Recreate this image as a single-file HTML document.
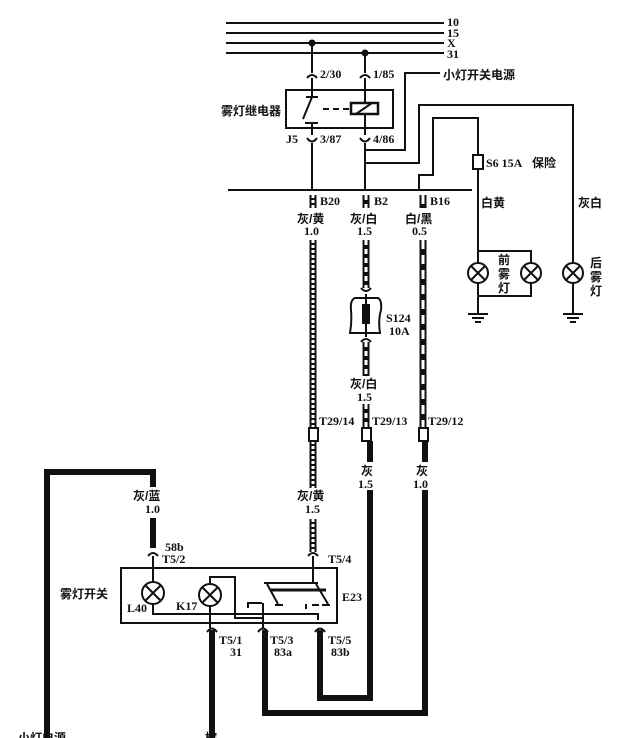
<!DOCTYPE html>
<html><head><meta charset="utf-8"><style>
html,body{margin:0;padding:0;background:#fff;}
svg{display:block;}
text{font-family:"Liberation Serif","Noto Serif CJK SC","Noto Sans CJK SC",serif;font-weight:bold;fill:#111;}
.c{font-family:"Liberation Sans","Noto Sans CJK SC",sans-serif;}
</style></head><body>
<svg width="640" height="738" viewBox="0 0 640 738" xmlns="http://www.w3.org/2000/svg">
<g stroke="#111" fill="none" stroke-width="2">
<line x1="226" y1="23" x2="444" y2="23"/>
<line x1="226" y1="33" x2="444" y2="33"/>
<line x1="226" y1="43" x2="444" y2="43"/>
<line x1="226" y1="53" x2="444" y2="53"/>
<rect x="286" y="90" width="107" height="38" stroke-width="2"/>
<line x1="312" y1="43" x2="312" y2="73"/>
<line x1="365" y1="53" x2="365" y2="73"/>
<path d="M307 78 Q312 72 317 78 M360 78 Q365 72 370 78"/>
<line x1="312" y1="78" x2="312" y2="97"/>
<line x1="312" y1="97" x2="303" y2="119"/>
<line x1="306" y1="97" x2="318" y2="97"/>
<line x1="305" y1="123" x2="318" y2="123"/>
<line x1="312" y1="123" x2="312" y2="135"/>
<path d="M323 109 H350" stroke-dasharray="6,4"/>
<rect x="351" y="103" width="27" height="11" stroke-width="2.5"/>
<line x1="356" y1="114" x2="372" y2="103"/>
<line x1="365" y1="78" x2="365" y2="103"/>
<line x1="365" y1="114" x2="365" y2="135"/>
<path d="M307 138 Q312 145 317 138 M360 138 Q365 145 370 138"/>
<line x1="312" y1="143" x2="312" y2="190"/>
<line x1="365" y1="143" x2="365" y2="190"/>
<path d="M365 150 H405 V73 H440"/>
<path d="M365 163 H419 V105 H573 V263"/>
<path d="M419 190 V175 H433 V118 H478 V155"/>
<rect x="473" y="155" width="10" height="14"/>
<line x1="478" y1="169" x2="478" y2="263"/>
<path d="M478 251 H531 V263 M478 296 H531 V283 M478 283 V313"/>
<circle cx="478" cy="273" r="10"/><circle cx="531" cy="273" r="10"/><circle cx="573" cy="273" r="10"/>
<path d="M471 266 L485 280 M485 266 L471 280 M524 266 L538 280 M538 266 L524 280 M566 266 L580 280 M580 266 L566 280"/>
<line x1="573" y1="283" x2="573" y2="313"/>
<path d="M468 314 H488 M472 318 H484 M475 322 H481 M563 314 H583 M567 318 H579 M570 322 H576"/>
<line x1="228" y1="190" x2="472" y2="190"/>
</g>
<g fill="#111">
<circle cx="312" cy="43" r="3.5"/><circle cx="365" cy="53" r="3.5"/>
</g>
<g fill="none">
<path d="M313 195 V208 M313 240 V428 M313 441 V488 M313 519 V552" stroke="#111" stroke-width="7"/>
<path d="M313 195 V208 M313 240 V428 M313 441 V488 M313 519 V552" stroke="#fff" stroke-width="3" stroke-dasharray="3,2"/>
<path d="M366 195 V208 M366 240 V288 M366 342 V376 M366 404 V428" stroke="#111" stroke-width="7"/>
<path d="M366 195 V208 M366 240 V288 M366 342 V376 M366 404 V428" stroke="#fff" stroke-width="3" stroke-dasharray="5,4"/>
<path d="M423 195 V208 M423 240 V428" stroke="#111" stroke-width="7"/>
<path d="M423 195 V208 M423 240 V428" stroke="#fff" stroke-width="3" stroke-dasharray="9,6"/>
</g>
<g stroke="#111" fill="none" stroke-width="2">
<path d="M361 288 Q366 294 371 288 M361 342 Q366 336 371 342"/>
<path d="M355 298 Q350 300 351 310 Q352 322 350 333 H380 Q378 320 381 310 Q382 300 378 298 Z"/>
<line x1="366" y1="294" x2="366" y2="337"/>
<rect x="309" y="428" width="9" height="13"/><rect x="362" y="428" width="9" height="13"/><rect x="419" y="428" width="9" height="13"/>
</g>
<rect x="362" y="304" width="8" height="20" fill="#111"/>
<g stroke="#111" fill="none" stroke-width="6">
<path d="M47 738 V472 H153 V487"/>
<path d="M153 518 V548"/>
<path d="M370 441 V462 M370 490 V698 H320 V630"/>
<path d="M425 441 V462 M425 490 V713 H265 V630"/>
<path d="M212 630 V738"/>
</g>
<g stroke="#111" fill="none" stroke-width="2">
<path d="M148 556 Q153 550 158 556 M308 556 Q313 550 318 556"/>
<line x1="153" y1="556" x2="153" y2="583"/>
<line x1="313" y1="556" x2="313" y2="583"/>
<rect x="121" y="568" width="216" height="55"/>
<circle cx="153" cy="593" r="11"/><circle cx="210" cy="595" r="11"/>
<path d="M145 585 L161 601 M161 585 L145 601 M202 587 L218 603 M218 587 L202 603"/>
<path d="M153 604 V614 H318 V620"/>
<path d="M210 606 V628 M210 584 V577 H235 V618 H263 V628"/>
<path d="M264 583 H318 M267 584 L278 604 M316 584 L328 604 M248 608 V603 H262 M263 603 V628 M275 605 H283 M306 609 V604 M312 605 H319 M322 605 H330"/>
<path d="M270 590 H326" stroke-width="3"/>
<path d="M207 632 Q212 625 217 632 M258 632 Q263 625 268 632 M315 632 Q320 625 325 632"/>
</g>
<g font-size="12">
<text x="447" y="26">10</text><text x="447" y="37">15</text><text x="447" y="47">X</text><text x="447" y="58">31</text>
<text x="320" y="78">2/30</text><text x="373" y="78">1/85</text>
<text x="443" y="79" class="c">小灯开关电源</text>
<text x="221" y="115" class="c">雾灯继电器</text>
<text x="286" y="143">J5</text><text x="320" y="143">3/87</text><text x="373" y="143">4/86</text>
<text x="486" y="167">S6 15A</text><text x="532" y="167" class="c">保险</text>
<text x="320" y="205">B20</text><text x="374" y="205">B2</text><text x="430" y="205">B16</text>
<text x="297" y="223" class="c">灰/黄</text><text x="350" y="223" class="c">灰/白</text><text x="405" y="223" class="c">白/黑</text>
<text x="304" y="235">1.0</text><text x="357" y="235">1.5</text><text x="412" y="235">0.5</text>
<text x="481" y="207" class="c">白黄</text><text x="578" y="207" class="c">灰白</text>
<text x="498" y="264" class="c">前</text><text x="498" y="278" class="c">雾</text><text x="498" y="292" class="c">灯</text>
<text x="590" y="267" class="c">后</text><text x="590" y="281" class="c">雾</text><text x="590" y="295" class="c">灯</text>
<text x="386" y="322">S124</text><text x="389" y="335">10A</text>
<text x="350" y="388" class="c">灰/白</text><text x="357" y="401">1.5</text>
<text x="319" y="425">T29/14</text><text x="372" y="425">T29/13</text><text x="428" y="425">T29/12</text>
<text x="361" y="475" class="c">灰</text><text x="358" y="488">1.5</text>
<text x="416" y="475" class="c">灰</text><text x="413" y="488">1.0</text>
<text x="133" y="500" class="c">灰/蓝</text><text x="145" y="513">1.0</text>
<text x="297" y="500" class="c">灰/黄</text><text x="305" y="513">1.5</text>
<text x="165" y="551">58b</text><text x="162" y="563">T5/2</text><text x="328" y="563">T5/4</text>
<text x="60" y="598" class="c">雾灯开关</text>
<text x="342" y="601">E23</text>
<text x="127" y="612">L40</text><text x="176" y="610">K17</text>
<text x="219" y="644">T5/1</text><text x="230" y="656">31</text>
<text x="270" y="644">T5/3</text><text x="274" y="656">83a</text>
<text x="328" y="644">T5/5</text><text x="331" y="656">83b</text>
<text x="18" y="742" class="c">小灯电源</text><text x="205" y="742" class="c">棕</text>
</g>
</svg>
</body></html>
